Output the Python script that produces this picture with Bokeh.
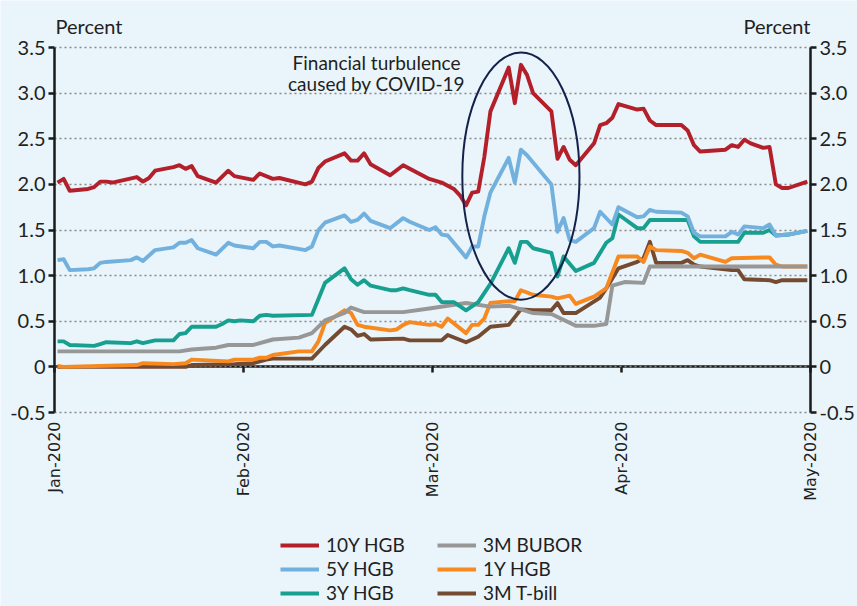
import calendar
import math
import datetime as dt
from bokeh.plotting import figure
from bokeh.models import (Range1d, LinearAxis, FixedTicker, Legend, LegendItem, Label)
from bokeh.embed import file_html
from bokeh.resources import INLINE

# ---------------- data ----------------
month_labels = ["Jan-2020", "Feb-2020", "Mar-2020", "Apr-2020", "May-2020"]
y_ticks = [-0.5, 0, 0.5, 1.0, 1.5, 2.0, 2.5, 3.0, 3.5]

dates_10y = ["2020-01-01", "2020-01-02", "2020-01-03", "2020-01-06", "2020-01-07", "2020-01-08",
             "2020-01-09", "2020-01-10", "2020-01-14", "2020-01-15", "2020-01-16", "2020-01-17",
             "2020-01-20", "2020-01-21", "2020-01-22", "2020-01-23", "2020-01-24", "2020-01-27",
             "2020-01-29", "2020-01-30",
             "2020-02-02", "2020-02-03", "2020-02-05", "2020-02-06", "2020-02-10", "2020-02-11",
             "2020-02-12", "2020-02-13", "2020-02-16", "2020-02-17", "2020-02-18", "2020-02-19",
             "2020-02-20", "2020-02-23", "2020-02-25", "2020-02-29",
             "2020-03-02", "2020-03-04", "2020-03-05", "2020-03-06", "2020-03-07", "2020-03-08",
             "2020-03-09", "2020-03-10", "2020-03-13", "2020-03-14", "2020-03-15", "2020-03-16",
             "2020-03-17", "2020-03-20", "2020-03-21", "2020-03-22", "2020-03-23", "2020-03-24",
             "2020-03-27", "2020-03-28", "2020-03-29", "2020-03-30", "2020-03-31",
             "2020-04-03", "2020-04-04", "2020-04-05", "2020-04-06", "2020-04-10", "2020-04-11",
             "2020-04-12", "2020-04-13", "2020-04-17", "2020-04-18", "2020-04-19", "2020-04-20",
             "2020-04-21", "2020-04-23", "2020-04-24", "2020-04-25", "2020-04-26", "2020-04-27",
             "2020-04-30"]
vals_10y = [2.02, 2.06, 1.93, 1.95, 1.97, 2.03, 2.03, 2.02, 2.08, 2.03, 2.07, 2.15,
            2.19, 2.21, 2.17, 2.20, 2.09, 2.02, 2.15, 2.09,
            2.05, 2.12, 2.06, 2.07, 2.00, 2.03, 2.18, 2.25, 2.34, 2.26, 2.26, 2.34,
            2.22, 2.10, 2.21, 2.06,
            2.02, 1.95, 1.88, 1.77, 1.91, 1.92, 2.30, 2.80, 3.28, 2.89, 3.31, 3.20,
            3.00, 2.80, 2.28, 2.41, 2.27, 2.21, 2.45, 2.65, 2.67, 2.73, 2.88,
            2.82, 2.83, 2.70, 2.65, 2.65, 2.59, 2.43, 2.36, 2.38, 2.43, 2.41, 2.49,
            2.45, 2.40, 2.41, 2.00, 1.96, 1.96, 2.03]

dates_5y = ["2020-01-01", "2020-01-02", "2020-01-03", "2020-01-06", "2020-01-07", "2020-01-08",
            "2020-01-09", "2020-01-13", "2020-01-14", "2020-01-15", "2020-01-17", "2020-01-20",
            "2020-01-21", "2020-01-22", "2020-01-23", "2020-01-24", "2020-01-27", "2020-01-29",
            "2020-01-30",
            "2020-02-02", "2020-02-03", "2020-02-04", "2020-02-05", "2020-02-06", "2020-02-10",
            "2020-02-11", "2020-02-12", "2020-02-13", "2020-02-16", "2020-02-17", "2020-02-18",
            "2020-02-19", "2020-02-20", "2020-02-23", "2020-02-25", "2020-02-26", "2020-02-29",
            "2020-03-01", "2020-03-02", "2020-03-03", "2020-03-06", "2020-03-07", "2020-03-08",
            "2020-03-09", "2020-03-10", "2020-03-13", "2020-03-14", "2020-03-15", "2020-03-16",
            "2020-03-20", "2020-03-21", "2020-03-22", "2020-03-23", "2020-03-24", "2020-03-27",
            "2020-03-28", "2020-03-30", "2020-03-31",
            "2020-04-03", "2020-04-04", "2020-04-05", "2020-04-06", "2020-04-10", "2020-04-11",
            "2020-04-12", "2020-04-13", "2020-04-17", "2020-04-18", "2020-04-19", "2020-04-20",
            "2020-04-23", "2020-04-24", "2020-04-25", "2020-04-27", "2020-04-30"]
vals_5y = [1.17, 1.18, 1.06, 1.07, 1.08, 1.14, 1.15, 1.17, 1.20, 1.16, 1.28, 1.31,
           1.36, 1.36, 1.39, 1.30, 1.23, 1.36, 1.33,
           1.30, 1.37, 1.37, 1.32, 1.33, 1.28, 1.32, 1.50, 1.58, 1.66, 1.59, 1.61,
           1.68, 1.60, 1.52, 1.63, 1.59, 1.50,
           1.53, 1.45, 1.44, 1.20, 1.32, 1.32, 1.65, 1.91, 2.29, 2.02, 2.38, 2.32,
           2.00, 1.48, 1.63, 1.39, 1.37, 1.52, 1.70, 1.56, 1.75,
           1.64, 1.65, 1.72, 1.70, 1.69, 1.65, 1.47, 1.43, 1.43, 1.48, 1.45, 1.54,
           1.52, 1.56, 1.44, 1.45, 1.49]

dates_3y = ["2020-01-01", "2020-01-02", "2020-01-03", "2020-01-07", "2020-01-08", "2020-01-09",
            "2020-01-13", "2020-01-14", "2020-01-15", "2020-01-17", "2020-01-20", "2020-01-21",
            "2020-01-22", "2020-01-23", "2020-01-27", "2020-01-28", "2020-01-29", "2020-01-30",
            "2020-01-31",
            "2020-02-02", "2020-02-03", "2020-02-04", "2020-02-05", "2020-02-11", "2020-02-13",
            "2020-02-16", "2020-02-17", "2020-02-18", "2020-02-19", "2020-02-20", "2020-02-23",
            "2020-02-24", "2020-02-25", "2020-02-26", "2020-02-29",
            "2020-03-01", "2020-03-02", "2020-03-04", "2020-03-06", "2020-03-08", "2020-03-10",
            "2020-03-13", "2020-03-14", "2020-03-15", "2020-03-16", "2020-03-17", "2020-03-20",
            "2020-03-21", "2020-03-22", "2020-03-24", "2020-03-27", "2020-03-29", "2020-03-30",
            "2020-03-31",
            "2020-04-03", "2020-04-04", "2020-04-05", "2020-04-11", "2020-04-12", "2020-04-13",
            "2020-04-19", "2020-04-20", "2020-04-23", "2020-04-24", "2020-04-25", "2020-04-27",
            "2020-04-30"]
vals_3y = [0.28, 0.28, 0.24, 0.23, 0.25, 0.27, 0.26, 0.28, 0.26, 0.29, 0.29, 0.36,
           0.37, 0.44, 0.44, 0.47, 0.51, 0.50, 0.51,
           0.50, 0.56, 0.57, 0.56, 0.57, 0.92, 1.08, 0.96, 0.90, 0.95, 0.89, 0.84,
           0.84, 0.86, 0.84, 0.79,
           0.79, 0.71, 0.71, 0.62, 0.71, 0.91, 1.30, 1.14, 1.37, 1.37, 1.30, 1.25,
           0.99, 1.21, 1.05, 1.14, 1.36, 1.41, 1.67,
           1.52, 1.52, 1.61, 1.61, 1.43, 1.37, 1.37, 1.47, 1.47, 1.50, 1.44, 1.45,
           1.49]

dates_bubor = ["2020-01-01", "2020-01-21", "2020-01-23", "2020-01-27", "2020-01-29",
               "2020-02-02", "2020-02-05", "2020-02-09", "2020-02-11", "2020-02-13",
               "2020-02-16", "2020-02-17", "2020-02-19", "2020-02-25", "2020-02-29",
               "2020-03-06", "2020-03-10", "2020-03-13", "2020-03-17", "2020-03-20",
               "2020-03-24", "2020-03-27", "2020-03-29", "2020-03-30",
               "2020-04-01", "2020-04-04", "2020-04-05", "2020-04-30"]
vals_bubor = [0.17, 0.17, 0.19, 0.21, 0.24,
              0.24, 0.30, 0.32, 0.37, 0.51, 0.59, 0.65, 0.60, 0.60, 0.64,
              0.70, 0.66, 0.67, 0.59, 0.58, 0.45, 0.45, 0.47, 0.89,
              0.93, 0.92, 1.10, 1.10]

dates_1y = ["2020-01-01", "2020-01-02", "2020-01-14", "2020-01-15", "2020-01-20", "2020-01-22",
            "2020-01-23", "2020-01-29", "2020-01-30",
            "2020-02-02", "2020-02-03", "2020-02-04", "2020-02-05", "2020-02-09", "2020-02-11",
            "2020-02-12", "2020-02-13", "2020-02-16", "2020-02-17", "2020-02-18", "2020-02-19",
            "2020-02-23", "2020-02-24", "2020-02-25", "2020-02-26", "2020-02-29",
            "2020-03-01", "2020-03-02", "2020-03-03", "2020-03-06", "2020-03-07", "2020-03-08",
            "2020-03-09", "2020-03-10", "2020-03-13", "2020-03-14", "2020-03-15", "2020-03-17",
            "2020-03-20", "2020-03-21", "2020-03-23", "2020-03-24", "2020-03-27", "2020-03-29",
            "2020-03-31",
            "2020-04-03", "2020-04-04", "2020-04-05", "2020-04-06", "2020-04-10", "2020-04-11",
            "2020-04-12", "2020-04-13", "2020-04-17", "2020-04-18", "2020-04-24", "2020-04-25",
            "2020-04-26", "2020-04-30"]
vals_1y = [0.01, 0.00, 0.02, 0.04, 0.03, 0.04, 0.08, 0.06, 0.08,
           0.08, 0.10, 0.10, 0.13, 0.17, 0.17, 0.28, 0.48, 0.62, 0.59, 0.46, 0.44,
           0.40, 0.41, 0.46, 0.49, 0.46,
           0.47, 0.44, 0.53, 0.37, 0.46, 0.46, 0.53, 0.70, 0.72, 0.72, 0.84, 0.79,
           0.77, 0.75, 0.78, 0.69, 0.77, 0.86, 1.21,
           1.21, 1.15, 1.32, 1.28, 1.27, 1.25, 1.19, 1.23, 1.15, 1.19, 1.20, 1.12,
           1.10, 1.10]

dates_tbill = ["2020-01-01", "2020-01-22", "2020-01-23", "2020-01-30",
               "2020-02-02", "2020-02-04", "2020-02-05", "2020-02-11", "2020-02-13",
               "2020-02-16", "2020-02-17", "2020-02-18", "2020-02-19", "2020-02-20",
               "2020-02-25", "2020-02-26", "2020-02-29",
               "2020-03-02", "2020-03-03", "2020-03-06", "2020-03-08", "2020-03-10",
               "2020-03-13", "2020-03-15", "2020-03-17", "2020-03-20", "2020-03-21",
               "2020-03-22", "2020-03-24", "2020-03-28", "2020-03-29", "2020-03-31",
               "2020-04-03", "2020-04-04", "2020-04-05", "2020-04-06", "2020-04-10",
               "2020-04-11", "2020-04-12", "2020-04-13", "2020-04-18", "2020-04-19",
               "2020-04-20", "2020-04-24", "2020-04-25", "2020-04-26", "2020-04-30"]
vals_tbill = [0.00, 0.00, 0.02, 0.03,
              0.04, 0.08, 0.09, 0.09, 0.24, 0.44, 0.41, 0.34, 0.36, 0.30,
              0.31, 0.29, 0.29,
              0.29, 0.35, 0.27, 0.33, 0.44, 0.46, 0.63, 0.62, 0.62, 0.70,
              0.59, 0.59, 0.76, 0.86, 1.08,
              1.15, 1.19, 1.37, 1.14, 1.14, 1.17, 1.12, 1.10, 1.06, 1.06,
              0.96, 0.95, 0.93, 0.95, 0.95]

series = [
    ("3M T-bill", dates_tbill, vals_tbill, "#744B31"),
    ("1Y HGB", dates_1y, vals_1y, "#F7891F"),
    ("3M BUBOR", dates_bubor, vals_bubor, "#979797"),
    ("3Y HGB", dates_3y, vals_3y, "#17A090"),
    ("5Y HGB", dates_5y, vals_5y, "#72B1DE"),
    ("10Y HGB", dates_10y, vals_10y, "#B3202A"),
]
legend_order = ["10Y HGB", "5Y HGB", "3Y HGB", "3M BUBOR", "1Y HGB", "3M T-bill"]

# annotation (ellipse around the turbulence period)
ell_center_date = "2020-03-15"
ell_center_val = 2.09
ell_width_months = 0.62
ell_height_val = 2.71


def month_pos(s):
    d = dt.date.fromisoformat(s)
    ndays = calendar.monthrange(d.year, d.month)[1]
    return (d.month - 1) + (d.day - 0.5) / ndays


BG = "#E9F4FB"
TXT = "#231F20"
FONT = "Lato"
AX = "#1A1A1A"

W, H = 857, 606
AXIS_L, AXIS_R = 54, 810                 # pixel columns of the two value axes
PLOT_TOP, PLOT_BOTTOM = 47, 412          # pixel rows of 3.5 and -0.5
n_m = len(month_labels) - 1
PX_PER_MONTH = (AXIS_R - AXIS_L) / n_m
x_lo = 0 - AXIS_L / PX_PER_MONTH
x_hi = n_m + (W - AXIS_R) / PX_PER_MONTH
PX_PER_UNIT = (PLOT_BOTTOM - PLOT_TOP) / (y_ticks[-1] - y_ticks[0])
y_lo = y_ticks[0] - (H - PLOT_BOTTOM) / PX_PER_UNIT
y_hi = y_ticks[-1] + PLOT_TOP / PX_PER_UNIT

p = figure(width=W, height=H, output_backend="svg", toolbar_location=None,
           x_range=Range1d(x_lo, x_hi), y_range=Range1d(y_lo, y_hi),
           x_axis_location=None,
           min_border_left=0, min_border_right=0, min_border_top=0,
           min_border_bottom=0, background_fill_color=BG, border_fill_color=BG,
           outline_line_color=None)

# grid
p.xgrid.visible = False
g = p.ygrid[0]
g.ticker = FixedTicker(ticks=y_ticks)
g.grid_line_color = "#8A8A8A"
g.grid_line_dash = "2 3"
g.grid_line_width = 1.3
if "cross_bounds" in g.properties():
    g.cross_bounds = (0, n_m)

renderers = {}
for name, dts, vals, col in series:
    xs = [month_pos(s) for s in dts]
    r = p.line(xs, vals, line_color=col, line_width=3.9, line_join="round")
    renderers[name] = r

# value axes (left and right), pinned to the first and last month
labels_y = {t: ("0" if t == 0 else f"{t:.1f}") for t in y_ticks}
yl = p.yaxis[0]
yl.ticker = FixedTicker(ticks=y_ticks)
yl.major_label_overrides = labels_y
yl.fixed_location = 0
yr = LinearAxis(ticker=FixedTicker(ticks=y_ticks), major_label_overrides=labels_y,
                fixed_location=n_m)
p.add_layout(yr, "right")
for ax in (yl, yr):
    ax.bounds = (y_ticks[0], y_ticks[-1])
    ax.axis_line_color = AX
    ax.axis_line_width = 2.5
    ax.major_tick_line_color = AX
    ax.major_tick_line_width = 2.5
    ax.major_tick_out = 6
    ax.major_tick_in = 0
    ax.minor_tick_line_color = None
    ax.major_label_text_font = FONT
    ax.major_label_text_font_size = "20px"
    ax.major_label_text_color = TXT
    ax.major_label_standoff = 3

tick_x = list(range(len(month_labels)))
# zero line axis with downward month ticks
xz = LinearAxis(fixed_location=0, ticker=FixedTicker(ticks=tick_x), bounds=(0, n_m),
                axis_line_color=AX, axis_line_width=2.5, major_tick_line_color=AX,
                major_tick_line_width=2.5, major_tick_out=6, major_tick_in=0,
                minor_tick_line_color=None, major_label_text_color=None,
                level="underlay")
p.add_layout(xz, "below")
# month labels axis under the -0.5 line
xm = LinearAxis(fixed_location=y_ticks[0], ticker=FixedTicker(ticks=tick_x),
                major_label_overrides={i: lab for i, lab in enumerate(month_labels)},
                major_label_orientation=math.pi / 2, axis_line_color=None,
                major_tick_line_color=None, minor_tick_line_color=None,
                major_label_standoff=3, major_label_text_font="DejaVu Sans",
                major_label_text_font_size="16px", major_label_text_color=TXT)
p.add_layout(xm, "below")

# ellipse highlight
p.ellipse(x=[month_pos(ell_center_date)], y=[ell_center_val], width=[ell_width_months],
          height=[ell_height_val], fill_color=None, line_color="#14214A", line_width=2)

# texts (screen units, frame covers the whole canvas)
p.add_layout(Label(x=55, y=H - 37, x_units="screen", y_units="screen", text="Percent",
                   text_font=FONT, text_font_size="20px", text_color=TXT,
                   text_align="left", text_baseline="bottom"))
p.add_layout(Label(x=810, y=H - 37, x_units="screen", y_units="screen", text="Percent",
                   text_font=FONT, text_font_size="20px", text_color=TXT,
                   text_align="right", text_baseline="bottom"))
p.add_layout(Label(x=376, y=H - 50, x_units="screen", y_units="screen",
                   text="Financial turbulence", text_font=FONT, text_font_size="19px",
                   text_color=TXT, text_align="center", text_baseline="top"))
p.add_layout(Label(x=376, y=H - 71, x_units="screen", y_units="screen",
                   text="caused by COVID-19", text_font=FONT, text_font_size="19px",
                   text_color=TXT, text_align="center", text_baseline="top"))

# legend: two columns of three
lg = Legend(items=[LegendItem(label=n, renderers=[renderers[n]]) for n in legend_order],
            location=(280, 2), orientation="vertical", nrows=3,
            padding=0, margin=0, spacing=1, glyph_width=39, glyph_height=20,
            label_height=20, label_width=110, label_standoff=7,
            border_line_color=None, background_fill_alpha=0, label_text_font=FONT,
            label_text_font_size="19px", label_text_color=TXT)
p.add_layout(lg, "center")

html = file_html(p, INLINE)
html = html.replace("<body>", '<body style="background-color:%s;">' % BG, 1)
open("out.html", "w").write(html)
